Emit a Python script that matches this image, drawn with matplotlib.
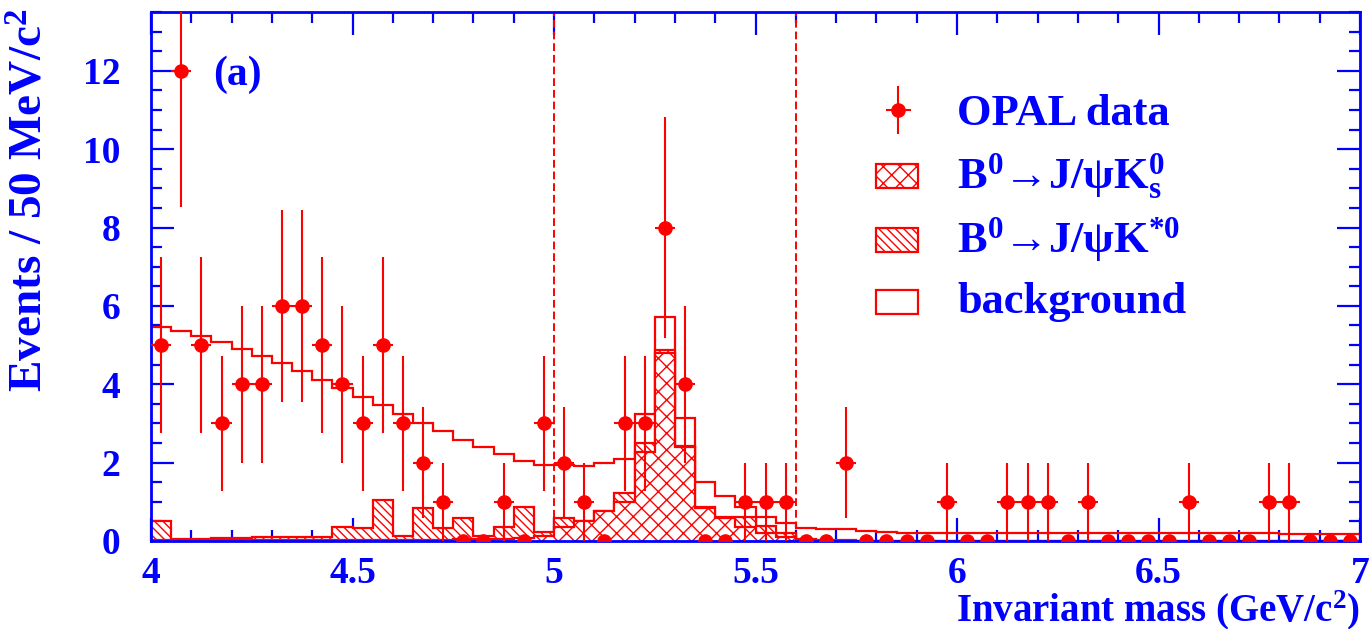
import numpy as np
import matplotlib
matplotlib.use("Agg")
import matplotlib.pyplot as plt
from matplotlib.patches import Rectangle
from matplotlib.ticker import MultipleLocator, FixedLocator

# ---------------- data ----------------
bin_lo, bin_hi, n_bins = 4.0, 7.0, 60

data_counts = [5, 12, 5, 3, 4, 4, 6, 6, 5, 4,
               3, 5, 3, 2, 1, 0, 0, 1, 0, 3,
               2, 1, 0, 3, 3, 8, 4, 0, 0, 1,
               1, 1, 0, 0, 2, 0, 0, 0, 0, 1,
               0, 0, 1, 1, 1, 0, 1, 0, 0, 0,
               0, 1, 0, 0, 0, 1, 1, 0, 0, 0]

ks_mc = [0.03, 0.03, 0.03, 0.03, 0.03, 0.03, 0.03, 0.03, 0.03, 0.03,
         0.03, 0.03, 0.03, 0.03, 0.03, 0.04, 0.05, 0.06, 0.08, 0.12,
         0.35, 0.50, 0.77, 1.00, 2.28, 4.80, 2.40, 0.84, 0.58, 0.37,
         0.20, 0.10, 0.03, 0.01, 0.01, 0.01, 0.0, 0.0, 0.0, 0.0,
         0.0, 0.0, 0.0, 0.0, 0.0, 0.0, 0.0, 0.0, 0.0, 0.0,
         0.0, 0.0, 0.0, 0.0, 0.0, 0.0, 0.0, 0.0, 0.0, 0.0]

kstar_mc = [0.48, 0.02, 0.02, 0.05, 0.05, 0.08, 0.08, 0.08, 0.08, 0.33,
            0.31, 1.02, 0.10, 0.80, 0.31, 0.54, 0.08, 0.31, 0.78, 0.12,
            0.23, 0.02, 0.0, 0.23, 0.21, 0.07, 0.02, 0.02, 0.02, 0.25,
            0.18, 0.10, 0.02, 0.01, 0.01, 0.0, 0.0, 0.0, 0.0, 0.0,
            0.0, 0.0, 0.0, 0.0, 0.0, 0.0, 0.0, 0.0, 0.0, 0.0,
            0.0, 0.0, 0.0, 0.0, 0.0, 0.0, 0.0, 0.0, 0.0, 0.0]

bkg_mc = [4.96, 5.32, 5.19, 5.00, 4.82, 4.61, 4.42, 4.23, 4.01, 3.55,
          3.34, 2.41, 3.11, 2.18, 2.47, 2.01, 2.27, 1.84, 1.19, 1.70,
          1.36, 1.40, 1.23, 0.85, 0.74, 0.85, 0.73, 0.65, 0.54, 0.24,
          0.24, 0.25, 0.29, 0.29, 0.28, 0.25, 0.24, 0.21, 0.21, 0.21,
          0.21, 0.21, 0.21, 0.21, 0.21, 0.21, 0.21, 0.21, 0.21, 0.21,
          0.21, 0.20, 0.20, 0.20, 0.20, 0.20, 0.19, 0.19, 0.19, 0.19]

signal_window = [5.0, 5.6]

x_major_ticks = [4.0, 4.5, 5.0, 5.5, 6.0, 6.5, 7.0]
x_tick_labels = ["4", "4.5", "5", "5.5", "6", "6.5", "7"]
y_major_ticks = [0, 2, 4, 6, 8, 10, 12]
y_tick_labels = ["0", "2", "4", "6", "8", "10", "12"]

legend_labels = ["OPAL data",
                 "B$^0$\u2192J/\u03c8K$_s^0$",
                 "B$^0$\u2192J/\u03c8K$^{*0}$",
                 "background"]

# ---------------- style ----------------
RED = "#FF0000"
BLUE = "#0000FF"
plt.rcParams["font.family"] = ["Liberation Serif", "DejaVu Serif"]
plt.rcParams["font.weight"] = "bold"
plt.rcParams["mathtext.fontset"] = "custom"
plt.rcParams["mathtext.rm"] = "Liberation Serif:bold"
plt.rcParams["mathtext.it"] = "Liberation Serif:bold"
plt.rcParams["mathtext.bf"] = "Liberation Serif:bold"
plt.rcParams["hatch.linewidth"] = 1.0
plt.rcParams["hatch.color"] = RED

fig = plt.figure(figsize=(13.71, 6.29), dpi=100)
ax = fig.add_axes([151 / 1371, 88 / 629, 1209 / 1371, 529 / 629])

edges = np.linspace(bin_lo, bin_hi, n_bins + 1)
centers = 0.5 * (edges[:-1] + edges[1:])
half_w = 0.5 * (edges[1] - edges[0])

ks = np.array(ks_mc)
kst = np.array(kstar_mc)
bkg = np.array(bkg_mc)
counts = np.array(data_counts, dtype=float)

# stacked MC: background on top of K*0 on top of Ks
ax.stairs(ks + kst + bkg, edges, baseline=0, fill=False,
          edgecolor=RED, linewidth=1.6, zorder=2)
for xv in signal_window:
    ax.axvline(xv, color=RED, linewidth=1.4, linestyle=(0, (4, 2)), zorder=2.2)
ax.stairs(ks + kst, edges, baseline=0, fill=True, facecolor="white",
          edgecolor=RED, hatch="\\\\\\\\", linewidth=1.6, zorder=3)
ax.stairs(ks, edges, baseline=0, fill=True, facecolor="white",
          edgecolor=RED, hatch="xx", linewidth=1.6, zorder=4)

# data points
yerr = np.sqrt(counts)
xerr = np.where(counts > 0, half_w, 0.0)
ax.errorbar(centers, counts, yerr=yerr, xerr=xerr, fmt="o", color=RED,
            markersize=9.5, elinewidth=1.5, capsize=0, zorder=6)

ax.set_xlim(bin_lo, bin_hi)
ax.set_ylim(0, 13.5)

# ticks
ax.xaxis.set_major_locator(FixedLocator(x_major_ticks))
ax.set_xticklabels(x_tick_labels)
ax.xaxis.set_minor_locator(MultipleLocator(0.1))
ax.yaxis.set_major_locator(FixedLocator(y_major_ticks))
ax.set_yticklabels(y_tick_labels)
ax.yaxis.set_minor_locator(MultipleLocator(0.5))
ax.tick_params(which="both", direction="in", top=True, right=True,
               color=BLUE, width=1.6)
ax.tick_params(which="major", length=16.5)
ax.tick_params(which="minor", length=8)
ax.tick_params(axis="x", which="major", labelsize=27, labelcolor=BLUE, pad=11)
ax.tick_params(axis="y", which="major", labelsize=27, labelcolor=BLUE, pad=22)
for lab in ax.get_xticklabels() + ax.get_yticklabels():
    lab.set_fontweight("bold")
for sp in ax.spines.values():
    sp.set_color(BLUE)
    sp.set_linewidth(2.0)
    sp.set_zorder(5)

# axis titles
fig.text(31 / 1371, 1 - 8 / 629, r"Events / 50 MeV/c$^2$", rotation=90,
         ha="center", va="top", color=BLUE, fontsize=34, fontweight="bold")
fig.text(1360 / 1371, 8 / 629, r"Invariant mass (GeV/c$^2$)",
         ha="right", va="baseline", color=BLUE, fontsize=28, fontweight="bold")

ax.text(0.051, 0.862, "(a)", transform=ax.transAxes, color=BLUE,
        fontsize=30, fontweight="bold", ha="left", va="baseline")

# legend (drawn by hand to mimic the ROOT layout)
tr = ax.transAxes
mx, my = 0.618, 0.815
ax.plot([mx], [my], "o", color=RED, markersize=9.5, transform=tr,
        clip_on=False, zorder=7)
ax.plot([mx, mx], [my - 0.043, my + 0.043], color=RED, lw=1.5, transform=tr)
ax.plot([mx - 0.0095, mx + 0.0095], [my, my], color=RED, lw=1.5, transform=tr)
box_x0, box_w, box_h = 0.600, 0.034, 0.0454
row_y = [0.690, 0.569, 0.452]
hatches = ["xx", "\\\\\\\\", None]
for yc, h in zip(row_y, hatches):
    ax.add_patch(Rectangle((box_x0, yc - box_h / 2), box_w, box_h,
                           transform=tr, facecolor="white", edgecolor=RED,
                           hatch=h, linewidth=1.6, zorder=7))
text_x = 0.667
text_y = [0.786, 0.667, 0.546, 0.431]
for lbl, ty in zip(legend_labels, text_y):
    ax.text(text_x, ty, lbl, transform=tr, color=BLUE, fontsize=32,
            fontweight="bold", ha="left", va="baseline", zorder=7)

fig.savefig("out.png", dpi=100, facecolor="white")
